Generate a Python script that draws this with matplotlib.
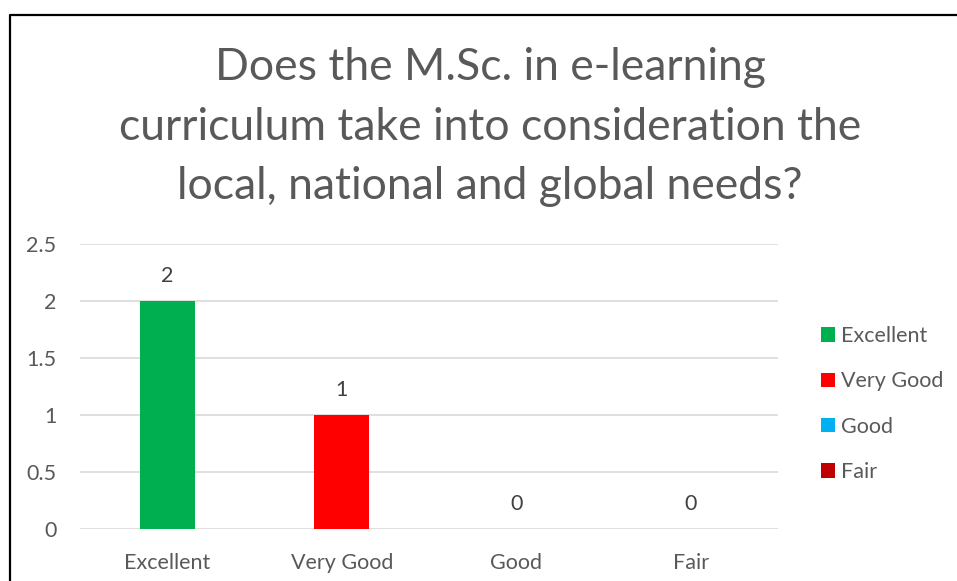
import matplotlib
matplotlib.use("Agg")
import matplotlib.pyplot as plt
from matplotlib.patches import Patch
from matplotlib.lines import Line2D

categories = ["Excellent", "Very Good", "Good", "Fair"]
values = [2, 1, 0, 0]
colors = ["#00B050", "#FF0000", "#00B0F0", "#C00000"]
yticks = [0, 0.5, 1, 1.5, 2, 2.5]
title = "Does the M.Sc. in e-learning\ncurriculum take into consideration the\nlocal, national and global needs?"

plt.rcParams['font.family'] = ['Lato', 'DejaVu Sans']
W, H = 957, 581
fig = plt.figure(figsize=(W/100, H/100), dpi=100)
ax = fig.add_axes([80/W, (H-529)/H, (778-80)/W, (529-244)/H])

x = list(range(len(categories)))
ax.bar(x, values, width=0.315, color=colors, zorder=3)
ax.set_xlim(-0.5, len(categories)-0.5)
ax.set_ylim(0, 2.5)
ax.set_yticks(yticks)
ax.set_yticklabels([f"{t:g}" for t in yticks])
ax.set_xticks(x)
ax.set_xticklabels(categories)
ax.grid(axis='y', color='#D9D9D9', linewidth=1.2, zorder=0)
for s in ax.spines.values():
    s.set_visible(False)
ax.tick_params(length=0, colors='#595959', labelsize=15.5)
ax.tick_params(axis='y', pad=17)
ax.tick_params(axis='x', pad=17)

for xi, v in zip(x, values):
    ax.annotate(f"{v:g}", (xi, v), xytext=(0, 18), textcoords='offset points',
                ha='center', va='center', fontsize=15.5, color='#404040')

fig.text(490/W, 1-127/H, title, ha='center', va='center', fontsize=32,
         color='#595959', linespacing=1.56)

handles = [Patch(facecolor=c, edgecolor='none') for c in colors]
leg = fig.legend(handles, categories, loc='center left', bbox_to_anchor=(821/W, 1-404/H),
                 frameon=False, fontsize=15.5, handlelength=0.65, handleheight=0.65,
                 handletextpad=0.3, labelspacing=1.18, labelcolor='#595959',
                 borderaxespad=0, borderpad=0)

fig.add_artist(Line2D([10/W, 10/W, 1.0], [0, 1-15/H, 1-15/H], color='black',
                      linewidth=1.6, transform=fig.transFigure))

fig.savefig("out.png", dpi=100)
